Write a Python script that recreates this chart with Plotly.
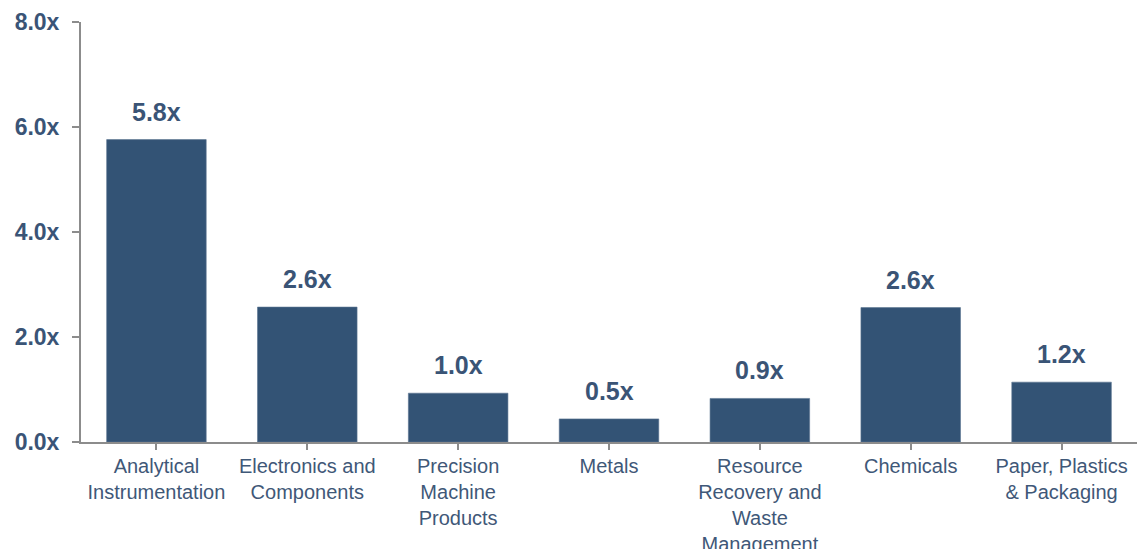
import plotly.graph_objects as go

categories = [
    "Analytical<br>Instrumentation",
    "Electronics and<br>Components",
    "Precision<br>Machine<br>Products",
    "Metals",
    "Resource<br>Recovery and<br>Waste<br>Management",
    "Chemicals",
    "Paper, Plastics<br>& Packaging",
]
values = [5.76, 2.57, 0.93, 0.44, 0.83, 2.56, 1.14]
value_labels = ["5.8x", "2.6x", "1.0x", "0.5x", "0.9x", "2.6x", "1.2x"]
y_ticks = [0, 2, 4, 6, 8]

bar_color = "#335375"
text_color = "#3A5476"
cat_color = "#3F5878"
axis_color = "#8C8C8C"
font_family = "Liberation Sans, Arial, sans-serif"

x_idx = list(range(len(categories)))

fig = go.Figure()
fig.add_trace(go.Bar(
    x=x_idx,
    y=values,
    width=0.66,
    marker=dict(color=bar_color, line=dict(color="#5A7390", width=0.6)),
    hoverinfo="skip",
))

for i, (v, lab) in enumerate(zip(values, value_labels)):
    fig.add_annotation(
        x=i, y=v, text=f"<b>{lab}</b>", showarrow=False,
        yanchor="bottom", yshift=12,
        font=dict(family=font_family, size=25, color=text_color),
    )

fig.update_layout(
    width=1137, height=549,
    margin=dict(l=81, r=0, t=22, b=107),
    paper_bgcolor="white", plot_bgcolor="white",
    showlegend=False,
    font=dict(family=font_family),
    xaxis=dict(
        range=[-0.5, 6.5],
        automargin=False,
        tickmode="array", tickvals=x_idx, ticktext=categories,
        tickson="boundaries",
        ticks="outside", ticklen=6, tickwidth=2, tickcolor=axis_color,
        ticklabelstandoff=-1,
        showline=True, linecolor=axis_color, linewidth=2,
        showgrid=False, zeroline=False,
        tickfont=dict(family=font_family, size=20, color=cat_color),
        fixedrange=True,
    ),
    yaxis=dict(
        range=[0, 8],
        automargin=False,
        tickmode="array", tickvals=y_ticks,
        ticktext=[f"<b>{t:.1f}x</b>" for t in y_ticks],
        ticks="outside", ticklen=7, tickwidth=2, tickcolor=axis_color,
        ticklabelstandoff=8,
        showline=True, linecolor=axis_color, linewidth=2,
        showgrid=False, zeroline=False,
        tickfont=dict(family=font_family, size=23, color=text_color),
        fixedrange=True,
    ),
)

fig.write_html(
    "out.html",
    config={"displayModeBar": False},
    post_script="document.body.style.margin='0';document.body.style.overflow='hidden';",
)
